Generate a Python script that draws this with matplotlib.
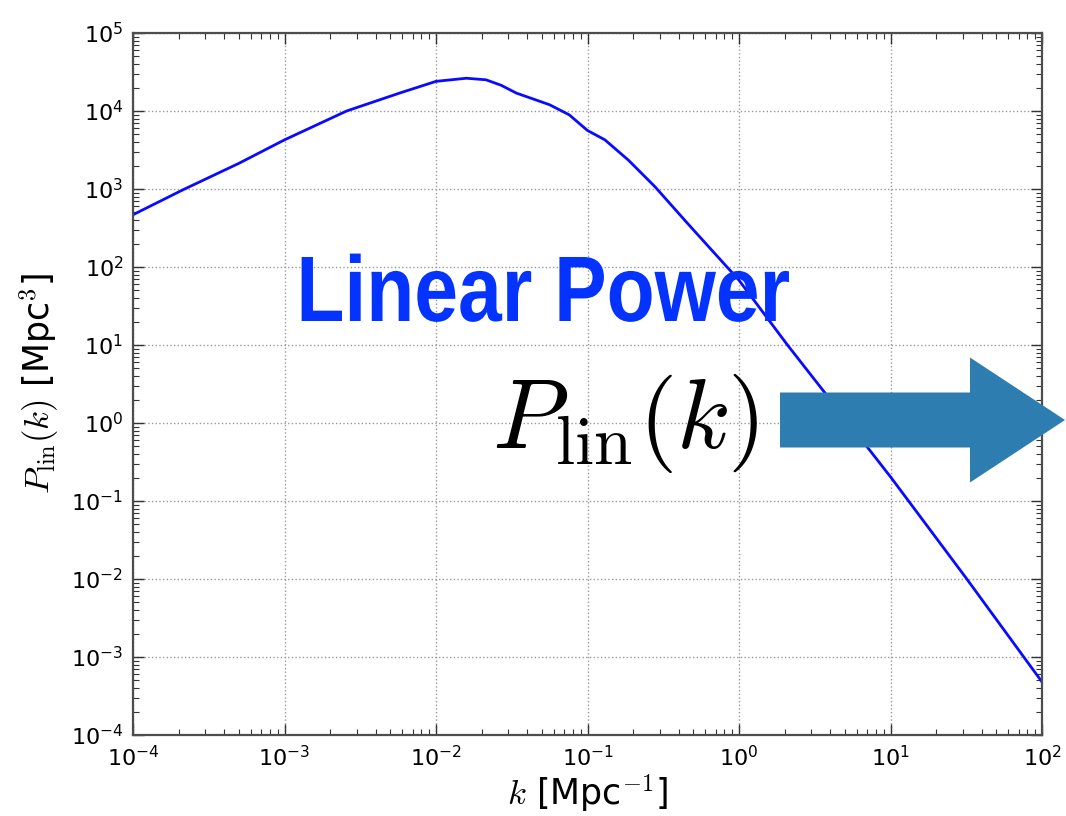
import numpy as np
import matplotlib
matplotlib.use("Agg")
import matplotlib.pyplot as plt
from matplotlib import patheffects
from matplotlib.patches import FancyArrow
from matplotlib.transforms import Affine2D

# ---- data (log10 values) ----
log_k = [-4.0, -3.67, -3.3, -3.0, -2.59, -2.24, -2.0, -1.8, -1.67, -1.57,
         -1.47, -1.25, -1.12, -1.0, -0.885, -0.73, -0.555, -0.34, 0.0,
         0.32, 0.59, 1.0, 1.5, 2.0]
log_P = [2.67, 2.99, 3.33, 3.63, 4.0, 4.23, 4.38, 4.42, 4.40, 4.33,
         4.23, 4.08, 3.95, 3.75, 3.63, 3.37, 3.03, 2.56, 1.83,
         1.0, 0.33, -0.69, -1.99, -3.32]
k_vals = np.power(10.0, log_k)
P_vals = np.power(10.0, log_P)

title_text = "Linear Power"
symbol_text = r"$P_{\rm lin}(k)$"
xlabel_text = r"$k$ [Mpc$^{-1}$]"
ylabel_text = r"$P_{\rm lin}(k)$ [Mpc$^3$]"


class Squeeze(patheffects.AbstractPathEffect):
    """Scale a drawn path about a display point (keeps the text a Text)."""
    def __init__(self, sx, sy, cx, cy):
        super().__init__()
        self.sx, self.sy, self.cx, self.cy = sx, sy, cx, cy

    def draw_path(self, renderer, gc, tpath, affine, rgbFace=None):
        extra = Affine2D().translate(-self.cx, -self.cy).scale(self.sx, self.sy).translate(self.cx, self.cy)
        renderer.draw_path(gc, tpath, affine + extra, rgbFace)


W, H = 1066, 816
fig = plt.figure(figsize=(W / 100, H / 100), dpi=100)
fig.patch.set_facecolor("white")
ax = fig.add_axes([133 / W, 1 - 735 / H, (1042 - 133) / W, (735 - 33) / H])

ax.plot(k_vals, P_vals, color="#0A0AFF", lw=2.0)
ax.set_xscale("log")
ax.set_yscale("log")
ax.set_xlim(1e-4, 1e2)
ax.set_ylim(1e-4, 1e5)

ax.grid(True, which="major", linestyle=":", color="0.6", lw=1.0)
ax.tick_params(which="both", direction="in", top=True, right=True, colors="0.2",
               labelcolor="black")
ax.tick_params(which="major", length=8, width=1.0, labelsize=16, pad=7)
ax.tick_params(which="minor", length=4, width=0.8)
for lab in ax.get_xticklabels() + ax.get_yticklabels():
    lab.set_math_fontfamily("dejavusans")
for sp in ax.spines.values():
    sp.set_color("0.3")
    sp.set_linewidth(1.6)

ax.set_xlabel(xlabel_text, fontsize=25, math_fontfamily="cm", labelpad=2)
ax.set_ylabel(ylabel_text, fontsize=25, math_fontfamily="cm", labelpad=7)

# big annotation text
cx, cy = 543, H - 286
fig.text(cx / W, 1 - 321 / H, title_text, fontsize=67, fontweight="bold",
         family=["Liberation Sans", "DejaVu Sans"], color="#0433FF",
         ha="center", va="baseline",
         path_effects=[Squeeze(0.845, 1.0, cx, cy)])

fig.text(625 / W, 1 - 423 / H, symbol_text, fontsize=71, math_fontfamily="cm",
         color="black", ha="center", va="center")

arrow = FancyArrow(780 / W, 1 - 420 / H, (1065 - 780) / W, 0,
                   width=55 / H, head_width=125 / H, head_length=95 / W,
                   length_includes_head=True, transform=fig.transFigure,
                   color="#2D7DB1", ec="none")
fig.patches.append(arrow)

fig.savefig("out.png", dpi=100)
